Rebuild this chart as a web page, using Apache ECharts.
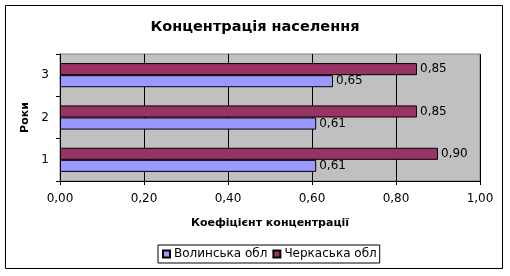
<!DOCTYPE html>
<html><head><meta charset="utf-8">
<script src="https://cdn.jsdelivr.net/npm/echarts@6/dist/echarts.min.js"></script>
<style>html,body{margin:0;padding:0;background:#fff}#c{width:510px;height:276px}</style>
</head><body><div id="c"></div>
<script>
var categories = ['1', '2', '3'];
var volyn = [0.61, 0.61, 0.65];
var cherkasy = [0.90, 0.85, 0.85];
var xTicks = [0, 0.2, 0.4, 0.6, 0.8, 1.0];

function fmt(v){ return Number(v).toFixed(2).replace('.', ','); }
var FONT = 'DejaVu Sans';
var chart = echarts.init(document.getElementById('c'), null, {renderer:'canvas'});
var lbl = {show: true, position: 'right', distance: 3, formatter: function(p){return fmt(p.value);}, color: '#000', fontSize: 12, fontFamily: FONT};
chart.setOption({
  animation: false,
  textStyle: {fontFamily: FONT},
  graphic: [{type:'rect', shape:{x:5.5, y:5.5, width:497, height:263}, style:{fill:'none', stroke:'#000', lineWidth:1}, z:-1}],
  title: {text: 'Концентрація населення', left: 'center', top: 15,
    textStyle: {fontFamily: FONT, fontSize: 14.5, fontWeight: 'bold', color: '#000'}},
  legend: {bottom: 13, left: 158, data: ['Волинська обл', 'Черкаська обл'],
    itemWidth: 7, itemHeight: 7, itemGap: 5, padding: [3, 3, 3, 4],
    borderColor: '#000', borderWidth: 1, backgroundColor: '#fff',
    textStyle: {fontFamily: FONT, fontSize: 12, color: '#000', padding:[0,0,0,-1]},
    icon: 'rect'},
  grid: {left: 60, right: 30, top: 54, bottom: 95, show: true, backgroundColor: '#C0C0C0', borderColor: '#808080', borderWidth: 1},
  xAxis: {type: 'value', min: xTicks[0], max: xTicks[xTicks.length-1], interval: 0.2,
    name: 'Коефіцієнт концентрації', nameLocation: 'middle', nameGap: 37,
    nameTextStyle: {fontFamily: FONT, fontSize: 11, fontWeight: 'bold', color: '#000'},
    axisLine: {show: true, lineStyle: {color: '#000'}},
    axisTick: {show: true, length: 4, lineStyle: {color: '#000'}},
    axisLabel: {formatter: fmt, color: '#000', fontSize: 12, fontFamily: FONT, margin: 12},
    splitLine: {show: true, lineStyle: {color: '#000', width: 1}}},
  yAxis: {type: 'category', data: categories,
    name: 'Роки', nameLocation: 'middle', nameGap: 24, nameRotate: 90,
    nameTextStyle: {fontFamily: FONT, fontSize: 11, fontWeight: 'bold', color: '#000'},
    axisLine: {show: true, lineStyle: {color: '#000'}},
    axisTick: {show: true, length: 4, lineStyle: {color: '#000'}},
    axisLabel: {color: '#000', fontSize: 12, fontFamily: FONT, margin: 11}},
  series: [
    {name: 'Черкаська обл', type: 'bar', data: cherkasy, barGap: '0%', barCategoryGap: '43%',
      itemStyle: {color: '#993366', borderColor: '#000', borderWidth: 1}, label: lbl},
    {name: 'Волинська обл', type: 'bar', data: volyn, barGap: '0%', barCategoryGap: '43%',
      itemStyle: {color: '#9999FF', borderColor: '#000', borderWidth: 1}, label: lbl}
  ]
});
</script></body></html>
